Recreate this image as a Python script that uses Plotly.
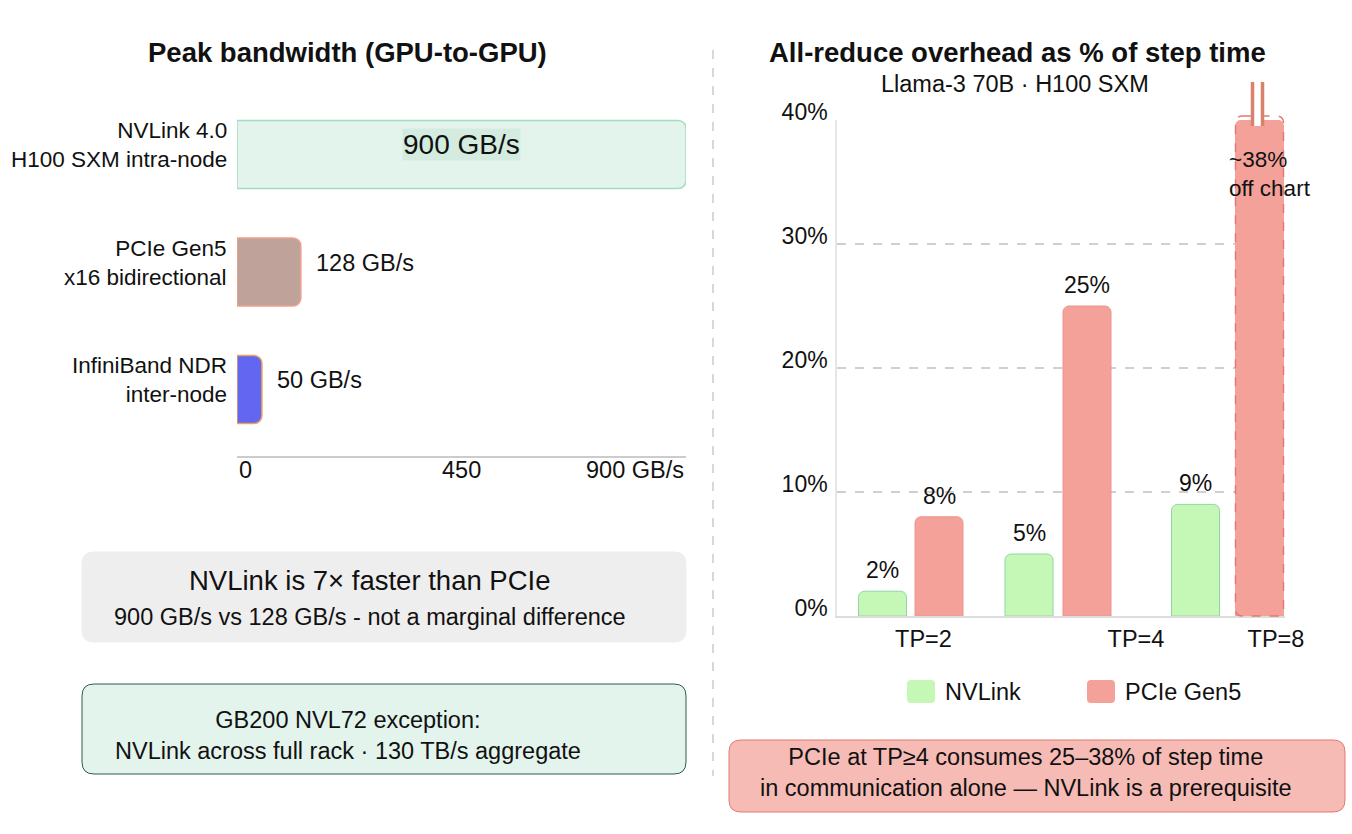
import plotly.graph_objects as go

# ---------------- data ----------------
link_names = ["NVLink 4.0<br>H100 SXM intra-node",
              "PCIe Gen5<br>x16 bidirectional",
              "InfiniBand NDR<br>inter-node"]
link_bw = [900, 128, 50]
bw_tick_vals = [0, 450, 900]
bw_tick_text = ["0", "450", "900 GB/s"]

tp_labels = ["TP=2", "TP=4", "TP=8"]
nvlink_pct = [2, 5, 9]
pcie_pct = [8, 25, 38]
pcie_off_chart = [False, False, True]
pct_tick_vals = [0, 10, 20, 30, 40]
pct_cap = 40

# ---------------- layout / style ----------------
W, H = 1352, 834
FONT = "Liberation Sans, Arial, Helvetica, sans-serif"
TXT = "#111111"

link_fill = ["#e2f4ec", "#bfa39a", "#6366f1"]
link_line = ["#a5dcc0", "#eea08f", "#e8a35c"]
NV_FILL, NV_LINE = "#c5f7b6", "#93d6a4"
PC_FILL, PC_LINE = "#f4a19a", "#ec948d"

# right panel slot positions (x2 axis units)
nv_pos = [45.5, 192, 358.5]
pc_pos = [102, 250, 422.5]
tick_pos = [86.5, 299, 439]
BAR_W = 48

# axis geometry in pixels
L_X = (237, 686); L_Y = (95, 456)
R_X = (837, 1285); R_Y = (120, 616)
R_XRANGE = (0, 448); R_YRANGE = (0, pct_cap)


def px(x):
    return x / W


def py(y):
    return 1 - y / H


def x2px(v):
    return R_X[0] + (v - R_XRANGE[0]) / (R_XRANGE[1] - R_XRANGE[0]) * (R_X[1] - R_X[0])


def y2px(v):
    return R_Y[1] - (v - R_YRANGE[0]) / (R_YRANGE[1] - R_YRANGE[0]) * (R_Y[1] - R_Y[0])


def rrect(x0, y0, x1, y1, r):
    pts = [("M", x0 + r, y0), ("L", x1 - r, y0), ("Q", x1, y0, x1, y0 + r),
           ("L", x1, y1 - r), ("Q", x1, y1, x1 - r, y1), ("L", x0 + r, y1),
           ("Q", x0, y1, x0, y1 - r), ("L", x0, y0 + r), ("Q", x0, y0, x0 + r, y0)]
    s = ""
    for p in pts:
        cmd = p[0]
        coords = p[1:]
        conv = []
        for i in range(0, len(coords), 2):
            conv.append(f"{px(coords[i]):.6f},{py(coords[i+1]):.6f}")
        s += cmd + " " + " ".join(conv) + " "
    return s + "Z"


def note(text, x, y, size, xanchor="center", **kw):
    d = dict(text=text, x=px(x), y=py(y), xref="paper", yref="paper", xanchor=xanchor,
             yanchor="middle", showarrow=False, font=dict(size=size, color=TXT))
    d.update(kw)
    return d


fig = go.Figure()

# ---------- left: bandwidth bars ----------
fig.add_trace(go.Bar(
    x=link_bw, y=link_names, orientation="h", width=0.58,
    marker=dict(color=link_fill, line=dict(color=link_line, width=1.5), cornerradius=8),
    xaxis="x", yaxis="y", showlegend=False, hoverinfo="x+y"))

# ---------- right: overhead bars ----------
fig.add_trace(go.Bar(
    x=nv_pos, y=nvlink_pct, width=BAR_W, name="NVLink",
    marker=dict(color=NV_FILL, line=dict(color=NV_LINE, width=1), cornerradius=6),
    xaxis="x2", yaxis="y2", showlegend=False, cliponaxis=False))
pcie_drawn = [pct_cap if off else v for v, off in zip(pcie_pct, pcie_off_chart)]
fig.add_trace(go.Bar(
    x=pc_pos, y=pcie_drawn, width=BAR_W, name="PCIe Gen5",
    customdata=pcie_pct, hovertemplate="%{customdata}%<extra>PCIe Gen5</extra>",
    marker=dict(color=PC_FILL,
                line=dict(color=[PC_FILL if off else PC_LINE for off in pcie_off_chart], width=1),
                cornerradius=6),
    xaxis="x2", yaxis="y2", showlegend=False, cliponaxis=False))

annotations = []
shapes = []

# titles
annotations.append(note("<b>Peak bandwidth (GPU-to-GPU)</b>", 347, 52, 27.5))
annotations.append(note("<b>All-reduce overhead as % of step time</b>", 1017, 52, 27.5))
annotations.append(note("Llama-3 70B · H100 SXM", 1015, 84, 23.5))

# left category labels
for i, name in enumerate(link_names):
    annotations.append(dict(text=name, x=0, y=i, xref="x", yref="y", xanchor="right",
                            yanchor="middle", xshift=-8, yshift=9, align="right",
                            showarrow=False, font=dict(size=22.5, color=TXT)))
# left value labels
bw_max = max(link_bw)
for i, v in enumerate(link_bw):
    if v / bw_max > 0.5:
        annotations.append(dict(text=f"{v} GB/s", x=v / 2, y=i, xref="x", yref="y",
                                xanchor="center", yanchor="middle",
                                yshift=10, showarrow=False, bgcolor="#d3ecdf", borderpad=0,
                                font=dict(size=28, color=TXT)))
    else:
        annotations.append(dict(text=f"{v} GB/s", x=v, y=i, xref="x", yref="y",
                                xanchor="left", yanchor="middle", xshift=13, yshift=9,
                                showarrow=False, font=dict(size=23.5, color=TXT)))
# left x tick labels
anchors = ["left", "center", "right"]
for v, t, a in zip(bw_tick_vals, bw_tick_text, anchors):
    annotations.append(dict(text=t, x=v, y=py(470), xref="x", yref="paper", xanchor=a,
                            yanchor="middle", showarrow=False, font=dict(size=23.5, color=TXT)))

# right value labels
for xp, v in zip(nv_pos, nvlink_pct):
    annotations.append(dict(text=f"{v}%", x=xp, y=v, xref="x2", yref="y2", yshift=21,
                            xanchor="center", yanchor="middle",
                            showarrow=False, font=dict(size=23, color=TXT)))
for xp, v, off in zip(pc_pos, pcie_pct, pcie_off_chart):
    if off:
        annotations.append(dict(text=f"~{v}%<br>off chart", x=xp, y=v, xref="x2", yref="y2",
                                xanchor="left", yanchor="top", xshift=-32.5, align="left",
                                showarrow=False, font=dict(size=22.5, color=TXT)))
        # dashed outline of the off-chart bar
        bx0, bx1 = x2px(xp - BAR_W / 2), x2px(xp + BAR_W / 2)
        by0, by1 = y2px(pct_cap), y2px(0)
        shapes.append(dict(type="path", path=rrect(bx0, by0 - 4, bx1, by1, 7), xref="paper",
                           yref="paper", line=dict(color="#e07a74", width=1.5, dash="dash"),
                           fillcolor="rgba(0,0,0,0)", layer="above"))
        # break marker
        cx = x2px(xp) - 2
        shapes.append(dict(type="rect", x0=px(cx - 4), x1=px(cx + 4), y0=py(126), y1=py(82),
                           xref="paper", yref="paper", fillcolor="white", line=dict(width=0),
                           layer="above"))
        for dx in (-5, 5):
            shapes.append(dict(type="line", x0=px(cx + dx), x1=px(cx + dx), y0=py(126), y1=py(82),
                               xref="paper", yref="paper", line=dict(color="#d9826b", width=3.5),
                               layer="above"))
    else:
        annotations.append(dict(text=f"{v}%", x=xp, y=v, xref="x2", yref="y2", yshift=21,
                                xanchor="center", yanchor="middle",
                                showarrow=False, font=dict(size=23, color=TXT)))

# custom legend
for (x0, fill, label) in [(907, NV_FILL, "NVLink"), (1087, PC_FILL, "PCIe Gen5")]:
    shapes.append(dict(type="path", path=rrect(x0, 680, x0 + 28, 703, 4), xref="paper",
                       yref="paper", fillcolor=fill, line=dict(width=0), layer="above"))
    annotations.append(note(label, x0 + 36, 692, 23.5, xanchor="left"))

# separator
shapes.append(dict(type="line", x0=px(713), x1=px(713), y0=py(50), y1=py(776), xref="paper",
                   yref="paper", line=dict(color="#cccccc", width=1.5, dash="dash")))

# info boxes
shapes.append(dict(type="path", path=rrect(82, 552, 686, 642, 12), xref="paper", yref="paper",
                   fillcolor="#eeeeee", line=dict(color="#eeeeee", width=1), layer="below"))
annotations.append(note("NVLink is 7× faster than PCIe", 370, 580, 27.5))
annotations.append(note("900 GB/s vs 128 GB/s - not a marginal difference", 370, 617, 23.5))

shapes.append(dict(type="path", path=rrect(82, 684, 686, 774, 12), xref="paper", yref="paper",
                   fillcolor="#e3f4ed", line=dict(color="#2f5b4c", width=1), layer="below"))
annotations.append(note("GB200 NVL72 exception:<br>NVLink across full rack · 130 TB/s aggregate",
                        348, 735, 23.5))

shapes.append(dict(type="path", path=rrect(729, 740, 1345, 812, 12), xref="paper", yref="paper",
                   fillcolor="#f7bbb6", line=dict(color="#e07b73", width=1), layer="below"))
annotations.append(note("PCIe at TP≥4 consumes 25–38% of step time<br>"
                        "in communication alone — NVLink is a prerequisite", 1026, 772, 23.5))

fig.update_layout(
    width=W, height=H, autosize=False, margin=dict(l=0, r=0, t=0, b=0, pad=0, autoexpand=False),
    paper_bgcolor="white", plot_bgcolor="white",
    font=dict(family=FONT, color=TXT),
    barmode="overlay", showlegend=False,
    annotations=annotations, shapes=shapes,
    xaxis=dict(domain=[px(L_X[0]), px(L_X[1])], range=[0, 900], anchor="y",
               showline=True, linecolor="#cccccc", linewidth=2, showgrid=False,
               zeroline=False, showticklabels=False, fixedrange=True, automargin=False),
    yaxis=dict(domain=[py(L_Y[1]), py(L_Y[0])], type="category", categoryorder="array",
               categoryarray=link_names, range=[2.566, -0.506], anchor="x",
               showgrid=False, zeroline=False, showticklabels=False, showline=False,
               fixedrange=True, automargin=False),
    xaxis2=dict(domain=[px(R_X[0]), px(R_X[1])], range=list(R_XRANGE), anchor="y2",
                tickvals=tick_pos, ticktext=tp_labels, tickfont=dict(size=23.5, color=TXT),
                showline=True, linecolor="#dddddd", linewidth=2, showgrid=False,
                zeroline=False, ticks="", ticklabelstandoff=1, fixedrange=True,
                automargin=False),
    yaxis2=dict(domain=[py(R_Y[1]), py(R_Y[0])], range=list(R_YRANGE), anchor="x2",
                tickvals=pct_tick_vals, ticktext=[f"{v}%" for v in pct_tick_vals],
                tickfont=dict(size=23, color=TXT), showgrid=True, gridcolor="#d0d0d0",
                griddash="dash", gridwidth=1.5, showline=True, linecolor="#e6e6e6",
                linewidth=1.5, zeroline=False, ticks="", ticklabelstandoff=3,
                ticklabelshift=-8, fixedrange=True, automargin=False),
)

fig.write_html("out.html")
